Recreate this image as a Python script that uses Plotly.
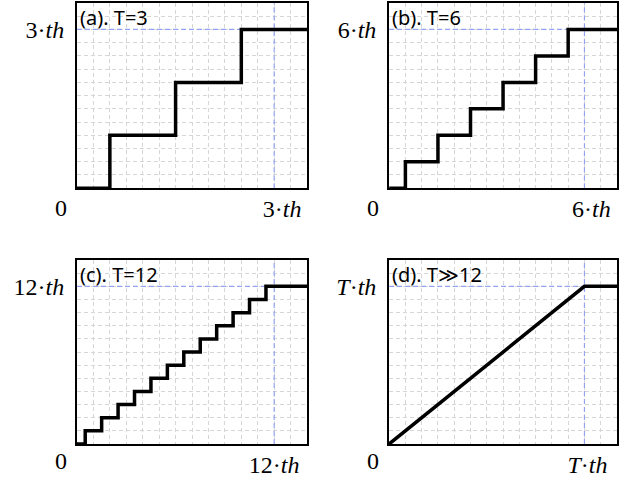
import plotly.graph_objects as go

# staircase data for each panel (x = time, y = level)
a_x = [0, 0.5, 1.5, 2.5, 3.5]
a_y = [0, 1, 2, 3, 3]
b_x = [0, 0.5, 1.5, 2.5, 3.5, 4.5, 5.5, 7]
b_y = [0, 1, 2, 3, 4, 5, 6, 6]
c_x = [0, 0.5, 1.5, 2.5, 3.5, 4.5, 5.5, 6.5, 7.5, 8.5, 9.5, 10.5, 11.5, 14]
c_y = [0, 1, 2, 3, 4, 5, 6, 7, 8, 9, 10, 11, 12, 12]
d_x = [0, 12, 14]
d_y = [0, 12, 12]

titles = ['(a). T=3', '(b). T=6', '(c). T=12', '(d). T\u226B12']
T_vals = [3, 6, 12, 12]
ranges = [3.5, 7, 14, 14]
tick_text = ['3·<i>th</i>', '6·<i>th</i>', '12·<i>th</i>', '<i>T</i>·<i>th</i>']
x_shift = [8, 7, 0, 3]
zero_shift = [-20, -20, -17, -17]
shapes_line = ['hv', 'hv', 'hv', 'linear']

series = [(a_x, a_y), (b_x, b_y), (c_x, c_y), (d_x, d_y)]

x_domains = [[0, 0.426], [0.578, 1], [0, 0.426], [0.578, 1]]
y_domains = [[0.580, 1], [0.580, 1], [0, 0.417], [0, 0.417]]

math_font = dict(family='Liberation Serif', size=24, color='black')
grid_col = '#d6d6d6'
blue = '#93a3f0'

fig = go.Figure()
layout = dict(width=621, height=480, showlegend=False,
              plot_bgcolor='white', paper_bgcolor='white',
              margin=dict(l=77, r=4, t=3, b=36, autoexpand=False))
annotations = []

for i in range(4):
    xa = 'x' if i == 0 else 'x%d' % (i + 1)
    ya = 'y' if i == 0 else 'y%d' % (i + 1)
    xs, ys = series[i]
    T = T_vals[i]
    R = ranges[i]
    # dashed reference lines at T
    fig.add_trace(go.Scatter(x=[0, R], y=[T, T], mode='lines', xaxis=xa, yaxis=ya,
                             line=dict(color=blue, width=1.2, dash='5px,3px')))
    fig.add_trace(go.Scatter(x=[T, T], y=[0, R], mode='lines', xaxis=xa, yaxis=ya,
                             line=dict(color=blue, width=1.2, dash='5px,3px')))
    fig.add_trace(go.Scatter(x=xs, y=ys, mode='lines', xaxis=xa, yaxis=ya, cliponaxis=False,
                             line=dict(color='black', width=3.5, shape=shapes_line[i])))
    step = R / 14
    ax_common = dict(range=[0, R], showline=True, linecolor='black', linewidth=2, mirror=True,
                     showgrid=False, zeroline=False, ticks='', tickmode='array', automargin=False,
                     tickvals=[T], ticktext=[tick_text[i]], tickfont=math_font,
                     minor=dict(tickmode='linear', tick0=0, dtick=step, showgrid=True, ticks='',
                                gridcolor=grid_col, griddash='4px,3px', gridwidth=1))
    layout['xaxis' if i == 0 else 'xaxis%d' % (i + 1)] = dict(
        ax_common, domain=x_domains[i], anchor=ya, ticklabelshift=x_shift[i], ticklabelstandoff=-2)
    layout['yaxis' if i == 0 else 'yaxis%d' % (i + 1)] = dict(
        ax_common, domain=y_domains[i], anchor=xa, ticklabelstandoff=6)

    annotations.append(dict(text=titles[i], xref=xa + ' domain', yref=ya + ' domain', x=0, y=1,
                            xanchor='left', yanchor='top', showarrow=False, xshift=1, yshift=1,
                            font=dict(family='Noto Sans', size=20, color='black')))
    annotations.append(dict(text='0', xref=xa, yref=ya, x=0, y=0, showarrow=False,
                            xshift=-16, yshift=zero_shift[i], font=math_font))

layout['annotations'] = annotations
fig.update_layout(**layout)

fig.write_html("out.html", config={'displayModeBar': False},
               post_script="document.body.style.margin='0';")
